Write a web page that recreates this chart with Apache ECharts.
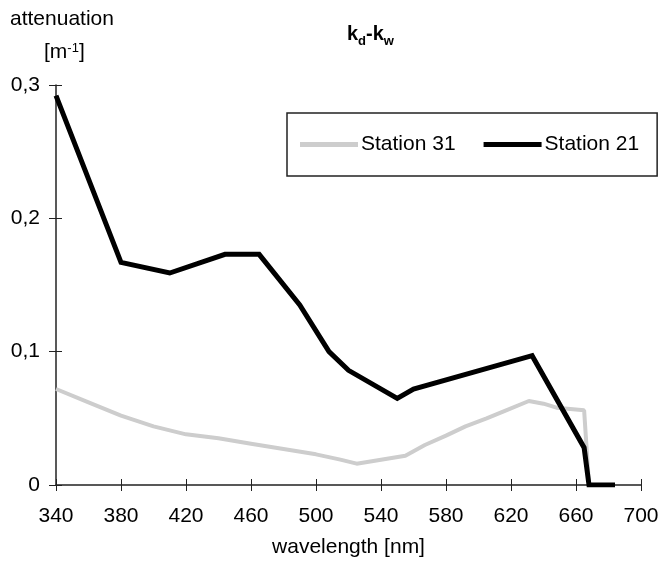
<!DOCTYPE html>
<html>
<head>
<meta charset="utf-8">
<script src="https://cdn.jsdelivr.net/npm/echarts@6/dist/echarts.min.js"></script>
<style>
  html, body { margin: 0; padding: 0; background: #fff; }
  #chart { width: 659px; height: 561px; }
</style>
</head>
<body>
<div id="chart"></div>
<script>
// Wavelength samples [nm] and diffuse attenuation k_d - k_w [1/m]
const wavelength31 = [340, 360, 380, 400, 420, 440, 460, 480, 500, 515, 525, 540, 555, 567, 580, 592, 605, 617, 631, 640, 648, 665, 668];
const station31 = [0.072, 0.062, 0.052, 0.044, 0.038, 0.035, 0.031, 0.027, 0.023, 0.019, 0.016, 0.019, 0.022, 0.030, 0.037, 0.044, 0.050, 0.056, 0.063, 0.061, 0.058, 0.056, 0];

const wavelength21 = [340, 380, 410, 444, 465, 490, 508, 520, 550, 560, 633, 665, 668, 684];
const station21 = [0.292, 0.167, 0.159, 0.173, 0.173, 0.135, 0.100, 0.086, 0.065, 0.072, 0.097, 0.028, 0, 0];

const seriesNames = ['Station 31', 'Station 21'];
const xTicks = { min: 340, max: 700, step: 40 };
const yTicks = { min: 0, max: 0.3, step: 0.1 };

const FONT = 'Liberation Sans, Arial, sans-serif';
const AXIS_COLOR = '#222';

function pairs(xs, ys) { return xs.map((x, i) => [x, ys[i]]); }
function commaDecimal(v) { return v === 0 ? '0' : v.toFixed(1).replace('.', ','); }

const chart = echarts.init(document.getElementById('chart'), null, { renderer: 'canvas' });

const baseX = { type: 'value', min: xTicks.min, max: xTicks.max, interval: xTicks.step, splitLine: { show: false } };
const baseY = { type: 'value', min: yTicks.min, max: yTicks.max, interval: yTicks.step, splitLine: { show: false } };

chart.setOption({
  backgroundColor: '#fff',
  animation: false,
  textStyle: { fontFamily: FONT },
  title: {
    text: 'k{sub|d}-k{sub|w}',
    left: 342,
    top: 17,
    textStyle: {
      fontFamily: FONT, fontSize: 20, fontWeight: 'bold', color: '#000', lineHeight: 24,
      rich: {
        sub: { fontFamily: FONT, fontSize: 13, fontWeight: 'bold', color: '#000', verticalAlign: 'bottom', lineHeight: 14, padding: [0, 0, -2, 0] }
      }
    }
  },
  graphic: [
    {
      type: 'text', left: 10, top: 9,
      style: { text: 'attenuation', font: '21px ' + FONT, fill: '#000' }
    },
    {
      type: 'text', left: 44, top: 42,
      style: {
        text: '[m{sup|-1}]', font: '21px ' + FONT, fill: '#000',
        rich: {
          sup: { fontSize: 13, fontFamily: FONT, verticalAlign: 'top', lineHeight: 13 }
        }
      }
    }
  ],
  legend: {
    left: 287,
    top: 113,
    orient: 'horizontal',
    backgroundColor: '#fff',
    borderColor: '#222',
    borderWidth: 1.5,
    borderRadius: 0,
    padding: [21, 18, 21, 13],
    itemGap: 28,
    itemWidth: 58,
    itemHeight: 5,
    textStyle: { fontFamily: FONT, fontSize: 21, color: '#000', padding: [0, 0, 0, -2] },
    data: [
      { name: seriesNames[0], icon: 'rect', itemStyle: { color: '#cdcdcd' } },
      { name: seriesNames[1], icon: 'rect', itemStyle: { color: '#000' } }
    ]
  },
  grid: { left: 56, right: 18, top: 85, bottom: 76, containLabel: false, outerBoundsMode: 'none' },
  xAxis: [
    Object.assign({}, baseX, {
      position: 'bottom',
      name: 'wavelength [nm]',
      nameLocation: 'middle',
      nameGap: 52,
      nameTextStyle: { fontFamily: FONT, fontSize: 21, color: '#000' },
      axisLine: { show: true, onZero: false, lineStyle: { color: AXIS_COLOR, width: 1.5 } },
      axisTick: { show: true, inside: false, length: 6, lineStyle: { color: AXIS_COLOR, width: 1 } },
      axisLabel: { margin: 21, fontFamily: FONT, fontSize: 21, color: '#000', showMinLabel: true, showMaxLabel: true }
    }),
    Object.assign({}, baseX, {
      position: 'bottom',
      axisLine: { show: false },
      axisTick: { show: true, inside: true, length: 6, lineStyle: { color: AXIS_COLOR, width: 1 } },
      axisLabel: { show: false }
    })
  ],
  yAxis: [
    Object.assign({}, baseY, {
      position: 'left',
      axisLine: { show: true, onZero: false, lineStyle: { color: AXIS_COLOR, width: 1.5 } },
      axisTick: { show: true, inside: false, length: 7, lineStyle: { color: AXIS_COLOR, width: 1 } },
      axisLabel: { margin: 16, fontFamily: FONT, fontSize: 21, color: '#000', formatter: commaDecimal, showMinLabel: true, showMaxLabel: true }
    }),
    Object.assign({}, baseY, {
      position: 'left',
      axisLine: { show: false },
      axisTick: { show: true, inside: true, length: 6, lineStyle: { color: AXIS_COLOR, width: 1 } },
      axisLabel: { show: false }
    })
  ],
  series: [
    {
      name: seriesNames[0],
      type: 'line',
      xAxisIndex: 0, yAxisIndex: 0,
      data: pairs(wavelength31, station31),
      symbol: 'none',
      smooth: false,
      lineStyle: { color: '#cdcdcd', width: 4 },
      itemStyle: { color: '#cdcdcd' },
      z: 2
    },
    {
      name: seriesNames[1],
      type: 'line',
      xAxisIndex: 0, yAxisIndex: 0,
      data: pairs(wavelength21, station21),
      symbol: 'none',
      smooth: false,
      lineStyle: { color: '#000', width: 5, join: 'miter' },
      itemStyle: { color: '#000' },
      z: 3
    }
  ]
});
</script>
</body>
</html>
